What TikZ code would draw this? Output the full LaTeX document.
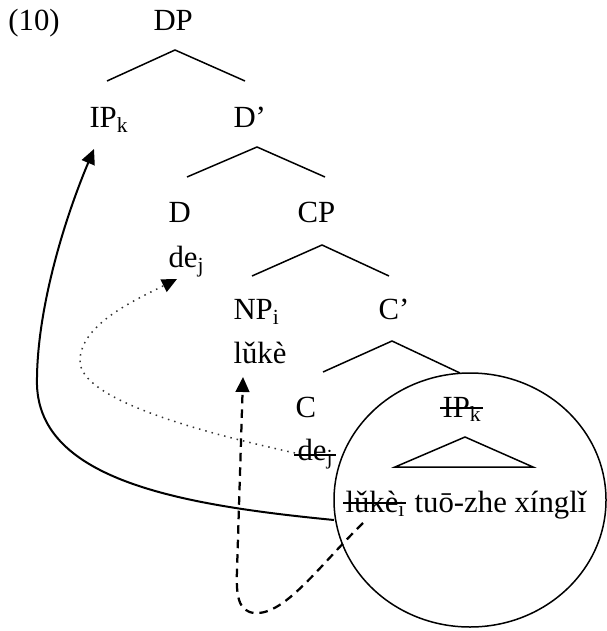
\documentclass[tikz,border=0pt]{standalone}
\usepackage{fontspec}
\setmainfont{Liberation Serif}
\usetikzlibrary{arrows.meta,calc}
\begin{document}
\begin{tikzpicture}[x=0.4pt,y=-0.4pt,
  lbl/.style={inner sep=0pt, anchor=base west, font=\fontsize{12.3}{14}\selectfont},
  branch/.style={line width=0.6pt},
  strike/.style={line width=0.6pt},
  tip/.style={-{Triangle[length=6pt,width=5.5pt,color=black]}},
  movesolid/.style={tip, line width=0.8pt},
  movedotted/.style={tip, line width=0.6pt, dotted, black!80},
  movedashed/.style={tip, line width=0.9pt, dash pattern=on 3.4pt off 2.4pt}]
\useasboundingbox (0,0) rectangle (606,631);
% labels
\node[lbl] (ten) at (8,31) {(10)};
\node[lbl] (DP) at (153,31) {DP};
\node[lbl] (IPk) at (89,128) {IP\textsubscript{k}};
\node[lbl] (Dbar) at (233,128) {D’};
\node[lbl] (D) at (168,223) {D};
\node[lbl] (CP) at (297,223) {CP};
\node[lbl] (dej) at (168,268) {de\textsubscript{j}};
\node[lbl] (NPi) at (233,320) {NP\textsubscript{i}};
\node[lbl] (Cbar) at (378,320) {C’};
\node[lbl] (luke) at (233,363) {lǔkè};
\node[lbl] (C) at (295,417) {C};
\node[lbl] (dejs) at (297,460) {de\textsubscript{j}};
\node[lbl] (IPks) at (442,417) {IP\textsubscript{k}};
\node[lbl] (lukes) at (345,512) {lǔkè\textsubscript{i}};
\node[lbl, anchor=base west] (rest) at ($(lukes.base east)+(8,0)$) {tuō-zhe xínglǐ};
% strikes
\draw[strike] ($(IPks.base west)+(-2,-9)$) -- ($(IPks.base east)+(1,-9)$);
\draw[strike] ($(dejs.base west)+(-3,-5)$) -- ($(dejs.base east)+(2,-5)$);
\draw[strike] ($(lukes.base west)+(-2,-9)$) -- ($(lukes.base east)+(0,-9)$);
% branches
\coordinate (a1) at (175,50); \coordinate (l1) at (107,81); \coordinate (r1) at (245,81);
\coordinate (a2) at (257,147); \coordinate (l2) at (187,177); \coordinate (r2) at (325,177);
\coordinate (a3) at (322,245); \coordinate (l3) at (252,276); \coordinate (r3) at (389,276);
\coordinate (a4) at (392,341); \coordinate (l4) at (323,372); \coordinate (r4) at (460,373);
\draw[branch] (l1) -- (a1) -- (r1);
\draw[branch] (l2) -- (a2) -- (r2);
\draw[branch] (l3) -- (a3) -- (r3);
\draw[branch] (l4) -- (a4) -- (r4);
% triangle
\coordinate (ta) at (465,437); \coordinate (tl) at (395,467); \coordinate (tr) at (533,467);
\draw[branch] (ta) -- (tl) -- (tr) -- cycle;
% circle
\coordinate (cc) at (470,500);
\draw[line width=0.6pt] (cc) ellipse [x radius=136, y radius=127];
% movement arrows
\coordinate (s1) at (334,520); \coordinate (e1) at (94,149);
\draw[movesolid] (s1) .. controls (180,505) and (40,480) .. (37,385)
  .. controls (36,315) and (62,225) .. (e1);
\coordinate (s2) at (295,453); \coordinate (e2) at (177,279);
\draw[movedotted] (s2) .. controls (200,432) and (82,400) .. (80,362)
  .. controls (79,325) and (135,300) .. (e2);
\coordinate (s3) at (363,523); \coordinate (e3) at (243,377);
\draw[movedashed] (s3) .. controls (320,565) and (285,615) .. (255,613)
  .. controls (238,612) and (236,595) .. (237,570) -- (e3);
\end{tikzpicture}
\end{document}
